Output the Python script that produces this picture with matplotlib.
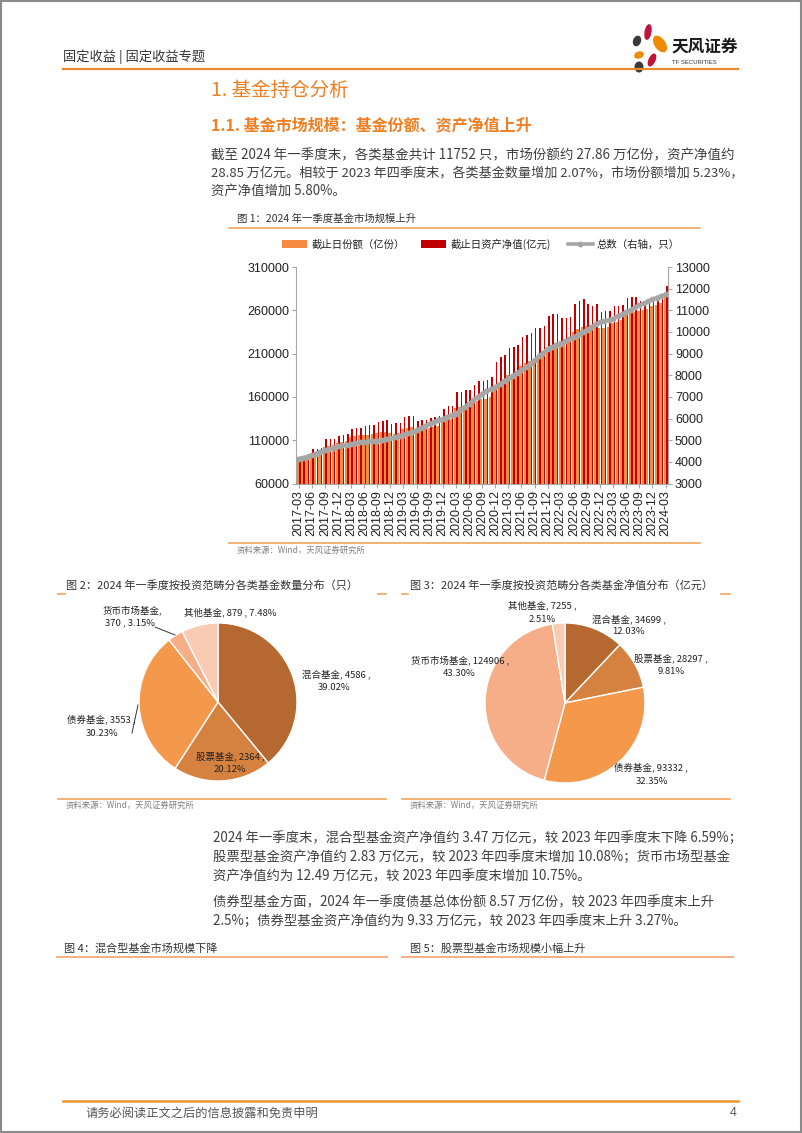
import matplotlib
matplotlib.use('Agg')
import matplotlib.pyplot as plt
import numpy as np
from matplotlib.patches import Ellipse, Rectangle

plt.rcParams['font.family'] = ['Noto Sans CJK SC', 'DejaVu Sans']

# ---------------- data ----------------
months = [f"{y}-{m:02d}" for y in range(2017, 2025) for m in range(1, 13)][2:87]

shares = [  # 截止日份额（亿份）
    88000, 88500, 89500, 95000, 95500, 96500, 102500, 103000, 104000, 107000,
    108000, 109000, 114000, 115000, 115500, 116000, 116500, 117000, 118500, 119000, 119500, 118000,
    117000, 118000, 123000, 124500, 125000, 122000, 123000, 123500, 124000, 125000, 126000, 131000,
    133000, 134000, 147000, 148000, 149000, 150000, 153000, 155000, 157000, 158000, 160000, 170000,
    175000, 178000, 185000, 187000, 189000, 196000, 199000, 201000, 205000, 207000, 209000, 216000,
    220000, 222000, 225000, 226000, 229000, 235000, 238000, 241000, 242000, 243000, 244000, 239000,
    240000, 241000, 245000, 247000, 249000, 256000, 257000, 258000, 259000, 260000, 262000, 264800,
    266000, 268000, 278600]

nav = [  # 截止日资产净值（亿元）
    91000, 92000, 94000, 100000, 100000, 100500, 111000, 111000, 111500, 115000,
    116000, 117000, 123000, 124000, 124000, 126000, 127500, 127700, 131500, 132300, 133500, 129000,
    129500, 129500, 136500, 137700, 137500, 132700, 133500, 133500, 135400, 136500, 138500, 146000,
    149000, 150000, 166000, 166000, 168000, 168000, 174000, 178000, 178000, 180000, 183000, 200000,
    205700, 208000, 216500, 218000, 219700, 229700, 232000, 233500, 239000, 239800, 241500, 253800,
    255800, 255800, 251200, 251200, 252300, 267300, 271200, 273100, 267300, 265400, 267300, 258100,
    258800, 258800, 264600, 264600, 265800, 274200, 275000, 275000, 271200, 270400, 272300, 273100,
    274200, 275000, 288500]

counts = [  # 总数（只）
    4150, 4190, 4240, 4300, 4380, 4460, 4540, 4600, 4660, 4720,
    4760, 4790, 4820, 4860, 4900, 4930, 4950, 4960, 4970, 5000, 5040, 5080,
    5140, 5200, 5260, 5320, 5390, 5460, 5560, 5660, 5770, 5850, 5920, 6000,
    6080, 6150, 6230, 6380, 6540, 6690, 6840, 7000, 7150, 7250, 7350, 7460,
    7590, 7720, 7850, 7980, 8100, 8230, 8380, 8530, 8690, 8870, 9050, 9230,
    9310, 9380, 9460, 9560, 9660, 9770, 9880, 9990, 10110, 10230, 10350, 10460,
    10510, 10570, 10620, 10720, 10820, 10920, 11020, 11130, 11230, 11320, 11410, 11510,
    11590, 11660, 11752]

pie_names_cnt = ['混合基金', '股票基金', '债券基金', '货币市场基金', '其他基金']
pie_vals_cnt = [4586, 2364, 3553, 370, 879]
pie_names_nav = ['混合基金', '股票基金', '债券基金', '货币市场基金', '其他基金']
pie_vals_nav = [34699, 28297, 93332, 124906, 7255]

# ---------------- styles ----------------
W, H = 802, 1133
ORANGE = '#EE7F22'
LINE_OR = '#F0A35E'
TXT = '#3F3F3F'
C_SHARE = '#F58A40'
C_NAV = '#C00000'
C_CNT = '#A6A6A6'
PIE_COLORS = ['#B5682F', '#D58240', '#F4984B', '#F5AE88', '#F8CBB2']
NUMF = ['Liberation Sans', 'DejaVu Sans']


def fa(l, t, r, b):
    return [l / W, 1 - b / H, (r - l) / W, (b - t) / H]


fig = plt.figure(figsize=(W / 100, H / 100), dpi=100)
page = fig.add_axes([0, 0, 1, 1])
page.set_xlim(0, W)
page.set_ylim(H, 0)
page.axis('off')
page.set_zorder(10)

# border
page.add_patch(Rectangle((0.8, 0.8), W - 1.6, H - 1.6, fill=False, ec='#8a8a8a', lw=1.5))

# header
page.text(63, 57, '固定收益 | 固定收益专题', fontsize=9.5, color='#333333', va='center', ha='left')
page.plot([63, 738], [69, 69], color='#E8892B', lw=1.6)
# logo
for (cx, cy, w, h, ang, col) in [
        (648, 32, 7, 16, 10, '#C0143C'),
        (660, 44, 11, 19, -35, '#F08A00'),
        (637, 41, 8, 11, 20, '#3A3A3A'),
        (639, 55, 10, 7, -20, '#F08A00'),
        (652, 60, 7, 14, 25, '#C0143C'),
        (639, 67, 9, 11, 0, '#3A3A3A')]:
    page.add_patch(Ellipse((cx, cy), w, h, angle=ang, color=col, lw=0))
page.text(671, 47, '天风证券', fontsize=12, color='#1a1a1a', va='center', ha='left', fontweight='bold')
page.text(672, 62, 'TF SECURITIES', fontsize=4.3, color='#333333', va='center', ha='left', family=NUMF)

# headings
page.text(211, 90, '1. 基金持仓分析', fontsize=14, color=ORANGE, va='center', ha='left')
page.text(211, 125, '1.1. 基金市场规模：基金份额、资产净值上升', fontsize=11.5, color=ORANGE,
          va='center', ha='left', fontweight='bold')

body = [
    (155, '截至 2024 年一季度末，各类基金共计 11752 只，市场份额约 27.86 万亿份，资产净值约', 9.7),
    (173, '28.85 万亿元。相较于 2023 年四季度末，各类基金数量增加 2.07%，市场份额增加 5.23%，', 9.45),
    (191, '资产净值增加 5.80%。', 9.6),
]
for y, s, fs in body:
    page.text(211, y, s, fontsize=fs, color=TXT, va='center', ha='left')

# figure 1 title
page.text(237, 219, '图 1：2024 年一季度基金市场规模上升', fontsize=7.5, color='#333333', va='center', ha='left')
page.plot([229, 700], [228, 228], color=LINE_OR, lw=1.2)
page.plot([229, 700], [543, 543], color=LINE_OR, lw=1.2)
page.text(237, 550, '资料来源：Wind，天风证券研究所', fontsize=6, color='#7f7f7f', va='center', ha='left')

# ---------------- main chart ----------------
ax = fig.add_axes(fa(296, 267, 668, 483.5))
x = np.arange(len(months))
ax.bar(x - 0.19, shares, width=0.55, color=C_SHARE, label='截止日份额（亿份）', zorder=2)
ax.bar(x + 0.27, nav, width=0.34, color=C_NAV, label='截止日资产净值(亿元)', zorder=2)
ax.set_ylim(60000, 310000)
ax.set_yticks(np.arange(60000, 310001, 50000))
ax.set_xlim(-0.6, 84.55)
ax.set_xticks(x[::3])
ax.set_xticklabels(months[::3], rotation=90, family=NUMF)
for lab in ax.get_yticklabels():
    lab.set_family(NUMF)
ax.tick_params(axis='both', labelsize=9, length=3, color='#A6A6A6', width=0.8, pad=2, labelcolor='#222222')
ax.patch.set_alpha(0)

ax2 = ax.twinx()
ax2.plot(x, counts, color=C_CNT, lw=2.6, marker='o', ms=3.2, label='总数（右轴，只）', zorder=3)
ax2.set_ylim(3000, 13000)
ax2.set_yticks(np.arange(3000, 13001, 1000))
for lab in ax2.get_yticklabels():
    lab.set_family(NUMF)
ax2.tick_params(axis='y', labelsize=9, length=3, color='#A6A6A6', width=0.8, pad=2, labelcolor='#222222')

for a in (ax, ax2):
    a.spines['top'].set_visible(False)
    for s in ('left', 'right', 'bottom'):
        a.spines[s].set_color('#A6A6A6')
        a.spines[s].set_linewidth(0.8)
ax.spines['right'].set_visible(False)
ax2.spines['left'].set_visible(False)
ax2.spines['bottom'].set_visible(False)

h1, l1 = ax.get_legend_handles_labels()
h2, l2 = ax2.get_legend_handles_labels()
leg = ax2.legend(h1 + h2, l1 + l2, ncol=3, loc='center', bbox_to_anchor=(0.497, 1.106),
                 frameon=False, fontsize=7.5, handlelength=2.4, columnspacing=1.6,
                 handletextpad=0.4, borderaxespad=0)
for t in leg.get_texts():
    t.set_color('#222222')

# ---------------- pies ----------------
page.text(66, 585, '图 2：2024 年一季度按投资范畴分各类基金数量分布（只）', fontsize=8, color='#333333',
          va='center', ha='left')
page.text(410, 585, '图 3：2024 年一季度按投资范畴分各类基金净值分布（亿元）', fontsize=8, color='#333333',
          va='center', ha='left')
for (a0, a1) in [(58, 65), (378, 386), (402, 408), (721, 730)]:
    page.plot([a0, a1], [594, 594], color=LINE_OR, lw=1.2)
page.plot([58, 386], [799, 799], color=LINE_OR, lw=1.2)
page.plot([402, 730], [799, 799], color=LINE_OR, lw=1.2)
page.text(66, 805, '资料来源：Wind，天风证券研究所', fontsize=6, color='#7f7f7f', va='center', ha='left')
page.text(410, 805, '资料来源：Wind，天风证券研究所', fontsize=6, color='#7f7f7f', va='center', ha='left')


def draw_pie(cx, cy, r, vals):
    pa = fig.add_axes(fa(cx - r, cy - r, cx + r, cy + r))
    pa.pie(vals, colors=PIE_COLORS, startangle=90, counterclock=False, radius=1,
           wedgeprops=dict(edgecolor='white', linewidth=1.0))
    pa.set_xlim(-1, 1)
    pa.set_ylim(-1, 1)
    pa.axis('off')
    return pa


draw_pie(218, 702, 79, pie_vals_cnt)
draw_pie(565, 703, 80, pie_vals_nav)

LF = 6.8
LC = '#222222'


def pct(vals, i):
    return vals[i] / sum(vals) * 100


def lab(xx, yy, s):
    page.text(xx, yy, s, fontsize=LF, ha='center', va='center', color=LC)


# pie 1 labels
v = pie_vals_cnt
lab(336, 674, f'{pie_names_cnt[0]}, {v[0]} ,')
lab(334, 687, f'{pct(v, 0):.2f}%')
lab(230, 756, f'{pie_names_cnt[1]}, {v[1]} ,')
lab(230, 770, f'{pct(v, 1):.2f}%')
lab(101, 719, f'{pie_names_cnt[2]}, {v[2]} ,')
lab(102, 733, f'{pct(v, 2):.2f}%')
lab(132, 610, f'{pie_names_cnt[3]},')
lab(130, 623, f'{v[3]} , {pct(v, 3):.2f}%')
lab(230, 612, f'{pie_names_cnt[4]}, {v[4]} , {pct(v, 4):.2f}%')
page.plot([132, 138], [733, 705], color='#333333', lw=0.7)
page.plot([155, 175], [627, 635], color='#333333', lw=0.7)

# pie 2 labels
v = pie_vals_nav
lab(542, 605, f'{pie_names_nav[4]}, {v[4]} ,')
lab(542, 619, f'{pct(v, 4):.2f}%')
lab(629, 619, f'{pie_names_nav[0]}, {v[0]} ,')
lab(628, 632, f'{pct(v, 0):.2f}%')
lab(671, 658, f'{pie_names_nav[1]}, {v[1]} ,')
lab(671, 671, f'{pct(v, 1):.2f}%')
lab(460, 660, f'{pie_names_nav[3]}, {v[3]} ,')
lab(459, 673, f'{pct(v, 3):.2f}%')
lab(651, 767, f'{pie_names_nav[2]}, {v[2]} ,')
lab(652, 781, f'{pct(v, 2):.2f}%')

# lower paragraphs
body2 = [
    (838, '2024 年一季度末，混合型基金资产净值约 3.47 万亿元，较 2023 年四季度末下降 6.59%；'),
    (857, '股票型基金资产净值约 2.83 万亿元，较 2023 年四季度末增加 10.08%；货币市场型基金'),
    (876, '资产净值约为 12.49 万亿元，较 2023 年四季度末增加 10.75%。'),
    (902, '债券型基金方面，2024 年一季度债基总体份额 8.57 万亿份，较 2023 年四季度末上升'),
    (921, '2.5%；债券型基金资产净值约为 9.33 万亿元，较 2023 年四季度末上升 3.27%。'),
]
for y, s in body2:
    page.text(213, y, s, fontsize=9.6, color=TXT, va='center', ha='left')

page.text(64, 948, '图 4：混合型基金市场规模下降', fontsize=8, color='#333333', va='center', ha='left')
page.text(410, 948, '图 5：股票型基金市场规模小幅上升', fontsize=8, color='#333333', va='center', ha='left')
page.plot([57, 387], [957, 957], color='#F4B183', lw=1.4)
page.plot([402, 733], [957, 957], color='#F4B183', lw=1.4)

# footer
page.plot([63, 738], [1101, 1101], color='#E8962B', lw=1.8)
page.text(85, 1113, '请务必阅读正文之后的信息披露和免责申明', fontsize=8.8, color='#555555', va='center', ha='left')
page.text(737, 1113, '4', fontsize=8.8, color='#555555', va='center', ha='right', family=NUMF)

fig.savefig('out.png', dpi=100)
